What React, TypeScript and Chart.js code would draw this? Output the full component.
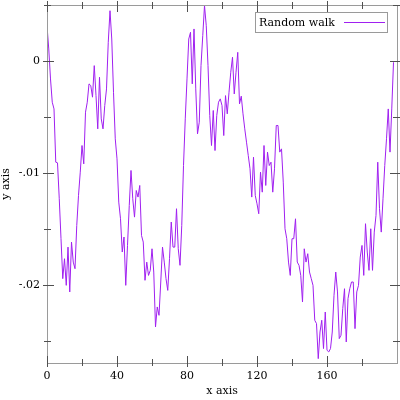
import React, { useEffect, useRef } from "react";
import { Chart, registerables } from "chart.js";

Chart.register(...registerables);

const seriesLabel = "Random walk";
const walkValues: number[] = [
  0.00315, 0.00107, -0.00161, -0.00369, -0.00429, -0.00905, -0.00911, -0.01232, -0.01589, -0.01946,
  -0.01768, -0.02006, -0.01664, -0.02065, -0.01619, -0.01798, -0.01857, -0.0147, -0.01202, -0.00994,
  -0.00756, -0.0092, -0.00458, -0.00369, -0.00205, -0.0022, -0.00324, -0.00042, -0.0031, -0.00607,
  -0.00146, -0.00518, -0.00607, -0.00399, -0.0025, 0.00167, 0.00449, 0.00196, -0.0028, -0.00696,
  -0.00875, -0.01262, -0.01411, -0.01708, -0.01574, -0.02006, -0.01649, -0.01292, -0.00979, -0.01232,
  -0.01396, -0.01158, -0.01217, -0.01113, -0.0156, -0.01619, -0.01961, -0.01798, -0.01917, -0.01872,
  -0.01679, -0.01887, -0.02378, -0.02199, -0.02274, -0.01976, -0.01664, -0.01798, -0.01946, -0.02051,
  -0.01768, -0.0144, -0.01664, -0.01664, -0.01321, -0.01679, -0.01827, -0.0147, -0.00935, -0.00518,
  -0.00161, 0.00196, 0.00256, -0.00205, 0.00286, -0.0025, -0.00652, -0.00548, -0.00042, 0.00226,
  0.00494, 0.00315, -0.00042, -0.00488, -0.00756, -0.00443, -0.00801, -0.00488, -0.00369, -0.00339,
  -0.00399, -0.00667, -0.0031, -0.00473, -0.0028, -0.00101, 0.00033, -0.00295, -0.00101, 0.00077,
  -0.00384, -0.00315, -0.00473, -0.00607, -0.00726, -0.00845, -0.00964, -0.01217, -0.0086, -0.01202,
  -0.01277, -0.01366, -0.00994, -0.01173, -0.00756, -0.01113, -0.00815, -0.00935, -0.00905, -0.01173,
  -0.00964, -0.00577, -0.00577, -0.00815, -0.00786, -0.01083, -0.015, -0.01589, -0.01798, -0.01917,
  -0.01589, -0.01589, -0.01411, -0.01798, -0.01827, -0.01917, -0.02155, -0.01679, -0.01798, -0.01723,
  -0.01887, -0.01946, -0.02006, -0.02318, -0.02348, -0.02661, -0.02423, -0.02318, -0.02571, -0.02244,
  -0.02586, -0.02601, -0.02571, -0.02423, -0.02095, -0.01887, -0.02065, -0.02482, -0.02452, -0.02214,
  -0.02036, -0.02512, -0.02125, -0.02036, -0.01976, -0.01976, -0.02393, -0.02065, -0.02006, -0.01753,
  -0.01649, -0.01917, -0.01455, -0.01708, -0.01872, -0.015, -0.01872, -0.0153, -0.01381, -0.00905,
  -0.01321, -0.0153, -0.01232, -0.00935, -0.00696, -0.00429, -0.00815, -0.00429, -0.00012,
];

const xMajorTicks = [0, 40, 80, 120, 160];
const xMinorTicks = [20, 60, 100, 140, 180];
const yMajorTicks = [-0.02, -0.01, 0];
const yTickLabels = ["-.02", "-.01", "0"];
const yMinorTicks = [-0.025, -0.015, -0.005, 0.005];
const xRange = [0, 200];
const yRange = [-0.027, 0.005];

const LINE_COLOR = "#a020f0";
const FONT_FAMILY = "'DejaVu Serif', serif";

const framePlugin = {
  id: "gnuFrame",
  afterDraw(chart: any) {
    const { ctx, chartArea } = chart;
    const { left, right, top, bottom } = chartArea;
    const xs = chart.scales.x;
    const ys = chart.scales.y;
    ctx.save();
    ctx.strokeStyle = "#9a9a9a";
    ctx.lineWidth = 1;
    ctx.strokeRect(Math.round(left) + 0.5, Math.round(top) + 0.5, Math.round(right - left), Math.round(bottom - top));
    ctx.strokeStyle = "#505050";
    const drawX = (v: number, inLen: number, outLen: number) => {
      const px = Math.round(xs.getPixelForValue(v)) + 0.5;
      ctx.beginPath();
      ctx.moveTo(px, bottom + outLen);
      ctx.lineTo(px, bottom - inLen);
      ctx.moveTo(px, top - outLen);
      ctx.lineTo(px, top + inLen);
      ctx.stroke();
    };
    const drawY = (v: number, inLen: number, outLen: number) => {
      const py = Math.round(ys.getPixelForValue(v)) + 0.5;
      ctx.beginPath();
      ctx.moveTo(left - outLen, py);
      ctx.lineTo(left + inLen, py);
      ctx.moveTo(right + outLen, py);
      ctx.lineTo(right - inLen, py);
      ctx.stroke();
    };
    xMajorTicks.forEach((v) => drawX(v, 7, 4));
    xMinorTicks.forEach((v) => drawX(v, 4, 3));
    yMajorTicks.forEach((v) => drawY(v, 7, 4));
    yMinorTicks.forEach((v) => drawY(v, 4, 3));

    // legend box
    const bx = 255.5, by = 12.5, bw = 132, bh = 20;
    ctx.fillStyle = "#ffffff";
    ctx.fillRect(bx, by, bw, bh);
    ctx.strokeStyle = "#9a9a9a";
    ctx.strokeRect(bx, by, bw, bh);
    ctx.fillStyle = "#000000";
    ctx.font = `11px ${FONT_FAMILY}`;
    ctx.textBaseline = "middle";
    ctx.textAlign = "left";
    ctx.fillText(seriesLabel, 259, by + bh / 2 + 0.5);
    ctx.strokeStyle = LINE_COLOR;
    ctx.beginPath();
    ctx.moveTo(344, 22.5);
    ctx.lineTo(385, 22.5);
    ctx.stroke();
    ctx.restore();
  },
};

export default function App() {
  const ref = useRef<HTMLCanvasElement | null>(null);
  useEffect(() => {
    document.body.style.margin = "0";
    const canvas = ref.current!;
    const chart = new Chart(canvas, {
      type: "line",
      data: {
        datasets: [
          {
            label: seriesLabel,
            data: walkValues.map((y, i) => ({ x: i, y })),
            borderColor: LINE_COLOR,
            borderWidth: 1,
            pointRadius: 0,
            tension: 0,
            fill: false,
          },
        ],
      },
      options: {
        animation: false,
        responsive: false,
        devicePixelRatio: 1,
        layout: { padding: { top: 5, right: 3, left: 0, bottom: 0 } },
        plugins: { legend: { display: false }, tooltip: { enabled: false } },
        scales: {
          x: {
            type: "linear",
            min: xRange[0],
            max: xRange[1],
            grid: { display: false, drawTicks: false },
            border: { display: false },
            afterBuildTicks: (axis: any) => {
              axis.ticks = xMajorTicks.map((v) => ({ value: v }));
            },
            afterFit: (axis: any) => {
              axis.height = 37;
            },
            ticks: {
              padding: 7,
              color: "#000",
              font: { family: FONT_FAMILY, size: 11 },
              maxRotation: 0,
              autoSkip: false,
              callback: (v: any) => String(v),
            },
            title: {
              display: true,
              text: "x axis",
              color: "#000",
              font: { family: FONT_FAMILY, size: 11 },
              padding: { top: 0, bottom: 2 },
            },
          },
          y: {
            type: "linear",
            min: yRange[0],
            max: yRange[1],
            grid: { display: false, drawTicks: false },
            border: { display: false },
            afterBuildTicks: (axis: any) => {
              axis.ticks = yMajorTicks.map((v) => ({ value: v }));
            },
            afterFit: (axis: any) => {
              axis.width = 47;
              axis.paddingTop = 0;
              axis.paddingBottom = 0;
            },
            ticks: {
              padding: 7,
              color: "#000",
              font: { family: FONT_FAMILY, size: 11 },
              autoSkip: false,
              callback: (v: any) => {
                const idx = yMajorTicks.findIndex((t) => Math.abs(t - Number(v)) < 1e-9);
                return idx >= 0 ? yTickLabels[idx] : "";
              },
            },
            title: {
              display: true,
              text: "y axis",
              color: "#000",
              font: { family: FONT_FAMILY, size: 11 },
              padding: { top: 0, bottom: 0 },
            },
          },
        },
      },
      plugins: [framePlugin],
    } as any);
    return () => chart.destroy();
  }, []);
  return <canvas ref={ref} width={400} height={400} style={{ display: "block" }} />;
}
